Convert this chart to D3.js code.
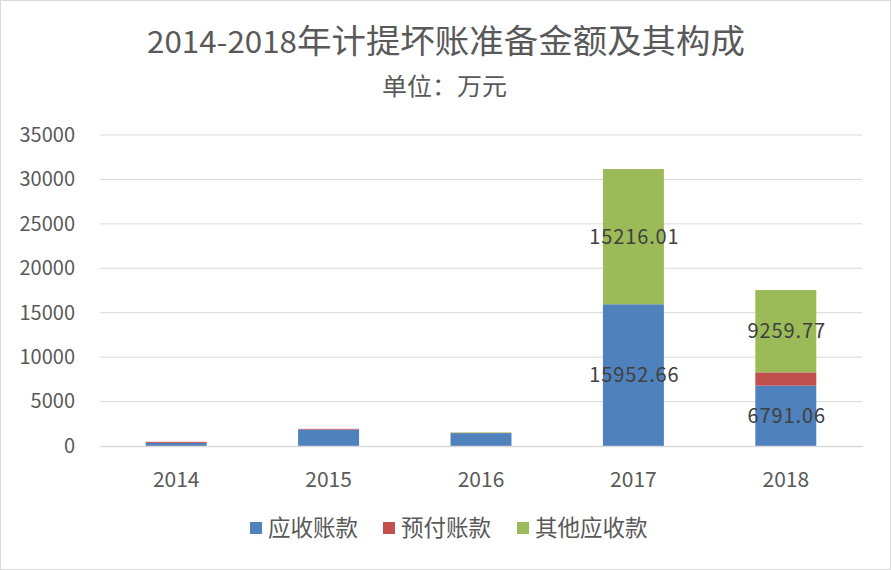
<!DOCTYPE html>
<html>
<head>
<meta charset="utf-8">
<script src="https://cdn.jsdelivr.net/npm/d3@7"></script>
<style>
  body { margin: 0; background: #fff; }
  text { font-family: "Noto Sans CJK SC", "Noto Sans", sans-serif; }
</style>
</head>
<body>
<div id="chart"></div>
<script>
var years = ["2014", "2015", "2016", "2017", "2018"];
var receivable = [350, 1850, 1450, 15952.66, 6791.06];
var prepaid = [120, 80, 20, 0, 1500];
var otherReceivable = [0, 0, 60, 15216.01, 9259.77];
var seriesNames = ["应收账款", "预付账款", "其他应收款"];
var yTicks = [0, 5000, 10000, 15000, 20000, 25000, 30000, 35000];
var labelled = { 3: [0, 2], 4: [0, 2] };

var width = 891, height = 570;
var margin = {top: 135, right: 29, bottom: 124, left: 100};
var colors = ["#4f81bd", "#c0504d", "#9bbb59"];

var svg = d3.select("#chart").append("svg")
  .attr("width", width)
  .attr("height", height);

svg.append("rect")
  .attr("x", 0.5).attr("y", 0.5)
  .attr("width", width - 1).attr("height", height - 1)
  .attr("fill", "#fff").attr("stroke", "#d9d9d9");

var data = years.map(function(y, i) {
  return { year: y, s0: receivable[i], s1: prepaid[i], s2: otherReceivable[i] };
});

var x = d3.scaleBand()
  .domain(years)
  .range([margin.left, width - margin.right])
  .paddingInner(0.6)
  .paddingOuter(0.3);

var y = d3.scaleLinear()
  .domain([0, 35000])
  .range([height - margin.bottom, margin.top]);

// gridlines
svg.append("g")
  .selectAll("line")
  .data(yTicks.slice(1))
  .join("line")
  .attr("x1", margin.left).attr("x2", width - margin.right)
  .attr("y1", d => y(d)).attr("y2", d => y(d))
  .attr("stroke", "#d9d9d9").attr("stroke-width", 1);

// y axis labels
svg.append("g")
  .attr("transform", "translate(" + (margin.left - 25) + ",0)")
  .call(d3.axisLeft(y).tickValues(yTicks).tickSize(0).tickPadding(0).tickFormat(d3.format("d")))
  .call(g => g.select(".domain").remove())
  .selectAll("text")
  .attr("fill", "#595959")
  .attr("font-size", "20px");

var stacked = d3.stack().keys(["s0", "s1", "s2"])(data);

svg.append("g")
  .selectAll("g")
  .data(stacked)
  .join("g")
  .attr("fill", (d, i) => colors[i])
  .selectAll("rect")
  .data(d => d)
  .join("rect")
  .attr("x", d => x(d.data.year))
  .attr("width", x.bandwidth())
  .attr("y", d => y(d[1]))
  .attr("height", d => y(d[0]) - y(d[1]));

// x axis
svg.append("g")
  .attr("transform", "translate(0," + y(0) + ")")
  .call(d3.axisBottom(x).tickSize(0).tickPadding(26))
  .call(g => g.select(".domain").attr("stroke", "#d9d9d9").attr("stroke-width", 1.5))
  .selectAll("text")
  .attr("fill", "#595959")
  .attr("font-size", "21px");

// data labels
var labelData = [];
stacked.forEach(function(layer, li) {
  layer.forEach(function(d, di) {
    if (labelled[di] && labelled[di].indexOf(li) >= 0) {
      labelData.push({ year: d.data.year, mid: (d[0] + d[1]) / 2, value: d[1] - d[0] });
    }
  });
});
svg.append("g")
  .selectAll("text")
  .data(labelData)
  .join("text")
  .attr("x", d => x(d.year) + x.bandwidth() / 2 + 1)
  .attr("y", d => y(d.mid))
  .attr("dy", "0.35em")
  .attr("text-anchor", "middle")
  .attr("fill", "#404040")
  .attr("font-size", "20px")
  .attr("letter-spacing", "0.9px")
  .text(d => d3.format(".2f")(d.value));

// title
var title = svg.append("text")
  .attr("x", 147).attr("y", 53)
  .attr("fill", "#595959")
  .attr("textLength", 598)
  .attr("lengthAdjust", "spacingAndGlyphs");
title.append("tspan").attr("font-size", "30px").text("2014-2018");
title.append("tspan").attr("font-size", "33px").text("年计提坏账准备金额及其构成");

svg.append("text")
  .attr("x", 382).attr("y", 95)
  .attr("fill", "#595959")
  .attr("font-size", "24px")
  .attr("textLength", 125)
  .attr("lengthAdjust", "spacingAndGlyphs")
  .text("单位：万元");

// legend
var legendX = [250, 383, 517];
var legend = svg.append("g")
  .selectAll("g")
  .data(seriesNames)
  .join("g")
  .attr("transform", (d, i) => "translate(" + legendX[i] + ",528)");
legend.append("rect")
  .attr("x", 0).attr("y", -6)
  .attr("width", 12).attr("height", 12)
  .attr("fill", (d, i) => colors[i]);
legend.append("text")
  .attr("x", 18).attr("dy", "0.35em")
  .attr("fill", "#595959")
  .attr("font-size", "22.5px")
  .text(d => d);
</script>
</body>
</html>
